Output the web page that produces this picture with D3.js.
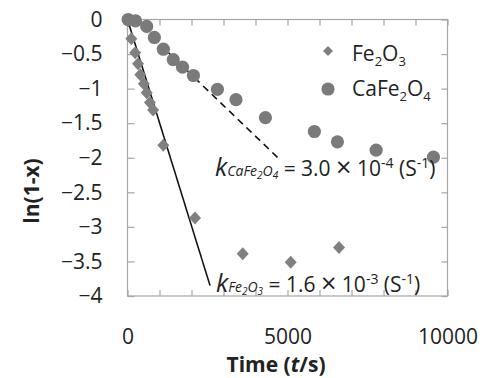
<!DOCTYPE html>
<html>
<head>
<meta charset="utf-8">
<script src="https://cdn.jsdelivr.net/npm/d3@7"></script>
<style>
  body { margin: 0; background: #fff; }
  svg text { font-family: "Open Sans", "DejaVu Sans", sans-serif; fill: #222; }
</style>
</head>
<body>
<div id="chart"></div>
<script>
// time (s) and ln(1-x)
const fe2o3Time = [20, 120, 240, 330, 400, 510, 600, 700, 800, 1120, 2110, 3600, 5100, 6610];
const fe2o3Val  = [-0.02, -0.28, -0.48, -0.64, -0.8, -0.93, -1.06, -1.2, -1.31, -1.82, -2.87, -3.39, -3.51, -3.3];
const cafe2o4Time = [20, 250, 600, 840, 1120, 1430, 1720, 2060, 2810, 3390, 4310, 5840, 6560, 7770, 9560];
const cafe2o4Val  = [0, -0.02, -0.1, -0.26, -0.43, -0.58, -0.69, -0.81, -1.01, -1.16, -1.42, -1.62, -1.77, -1.89, -1.99];

// fitted lines [time, value]
const fe2o3Fit = [[0, 0], [2580, -3.85]];
const cafe2o4Fit = [[200, 0], [4700, -2.0]];

const xTicks = [0, 1000, 2000, 3000, 4000, 5000, 6000, 7000, 8000, 9000, 10000];
const xLabels = [0, 5000, 10000];
const yTicks = [0, -0.5, -1, -1.5, -2, -2.5, -3, -3.5, -4];

const width = 489, height = 378;
const frame = '#a6a6a6';

const svg = d3.select('#chart')
  .append('svg')
    .attr('width', width)
    .attr('height', height);

const x = d3.scaleLinear().domain([0, 10000]).range([127.5, 447.5]);
const y = d3.scaleLinear().domain([-4, 0]).range([296, 19.5]);

// frame
svg.append('rect')
  .attr('x', x(0)).attr('y', y(0))
  .attr('width', x(10000) - x(0)).attr('height', y(-4) - y(0))
  .attr('fill', 'none').attr('stroke', frame).attr('stroke-width', 1.2);

function styleAxis(g) {
  g.select('.domain').remove();
  g.selectAll('.tick line').attr('stroke', frame).attr('stroke-width', 1.2);
  g.selectAll('.tick text')
    .style('font-family', '"Open Sans", sans-serif')
    .style('font-size', '21px')
    .attr('fill', '#222');
}

svg.append('g')
  .attr('transform', `translate(0,${y(-4)})`)
  .call(d3.axisBottom(x).tickValues(xTicks).tickSizeInner(-6).tickSizeOuter(0).tickPadding(33)
    .tickFormat(d => xLabels.includes(d) ? d : ''))
  .call(styleAxis);

svg.append('g')
  .attr('transform', `translate(0,${y(0)})`)
  .call(d3.axisTop(x).tickValues(xTicks).tickSizeInner(-6).tickSizeOuter(0).tickFormat(''))
  .call(styleAxis);

svg.append('g')
  .attr('transform', `translate(${x(0)},0)`)
  .call(d3.axisLeft(y).tickValues(yTicks).tickSizeInner(-7).tickSizeOuter(0).tickPadding(25)
    .tickFormat(d => d === 0 ? '0' : d3.format('')(d)))
  .call(styleAxis);

svg.append('g')
  .attr('transform', `translate(${x(10000)},0)`)
  .call(d3.axisRight(y).tickValues(yTicks).tickSizeInner(-6).tickSizeOuter(0).tickFormat(''))
  .call(styleAxis);

// axis titles
svg.append('text')
  .attr('x', 276).attr('y', 372)
  .attr('text-anchor', 'middle')
  .style('font-size', '21px').style('font-weight', 'bold')
  .call(t => {
    t.append('tspan').text('Time (');
    t.append('tspan').style('font-style', 'italic').text('t');
    t.append('tspan').text('/s)');
  });

svg.append('text')
  .attr('transform', 'translate(39,191) rotate(-90)')
  .attr('text-anchor', 'middle')
  .style('font-size', '21px').style('font-weight', 'bold')
  .text('ln(1-x)');

// fit lines
const line = d3.line().x(d => x(d[0])).y(d => y(d[1]));
svg.append('path')
  .datum(fe2o3Fit)
  .attr('d', line)
  .attr('fill', 'none').attr('stroke', '#111').attr('stroke-width', 1.6);
svg.append('path')
  .datum(cafe2o4Fit)
  .attr('d', line)
  .attr('fill', 'none').attr('stroke', '#111').attr('stroke-width', 1.6)
  .attr('stroke-dasharray', '7,5');

// points
const diamond = 'M0,-6.5L6,0L0,6.5L-6,0Z';
svg.append('g').selectAll('path')
  .data(fe2o3Time.map((t, i) => [t, fe2o3Val[i]]))
  .join('path')
    .attr('d', diamond)
    .attr('transform', d => `translate(${x(d[0])},${y(d[1])})`)
    .attr('fill', '#808080');

svg.append('g').selectAll('circle')
  .data(cafe2o4Time.map((t, i) => [t, cafe2o4Val[i]]))
  .join('circle')
    .attr('cx', d => x(d[0]))
    .attr('cy', d => y(d[1]))
    .attr('r', 6.6)
    .attr('fill', '#7a7a7a');

// legend
const legend = svg.append('g');
legend.append('path').attr('d', 'M0,-5L5,0L0,5L-5,0Z')
  .attr('transform', 'translate(328,51)').attr('fill', '#808080');
legend.append('circle').attr('cx', 328).attr('cy', 89).attr('r', 6.6).attr('fill', '#7a7a7a');

// parts: plain strings, or [string] for a subscript
function formula(t, parts, size, subSize, shift, italic) {
  let lowered = false;
  parts.forEach(p => {
    const s = t.append('tspan');
    if (Array.isArray(p)) {
      s.attr('dy', shift).style('font-size', subSize + 'px').text(p[0]);
      lowered = true;
    } else {
      if (lowered) { s.attr('dy', -shift); lowered = false; }
      s.style('font-size', size + 'px').text(p);
    }
    if (italic) s.style('font-style', 'italic');
  });
  return lowered;
}
legend.append('text').attr('x', 352).attr('y', 61)
  .call(t => formula(t, ['Fe', ['2'], 'O', ['3']], 21, 13, 5, false));
legend.append('text').attr('x', 352).attr('y', 96)
  .call(t => formula(t, ['CaFe', ['2'], 'O', ['4']], 21, 13, 5, false));

// rate constant annotations
function rateLabel(px, py, subParts, mant, exp) {
  const t = svg.append('text').attr('x', px).attr('y', py).style('font-size', '21px');
  t.append('tspan').style('font-style', 'italic').style('font-size', '25px').text('k');
  const lowered = formula(t, subParts, 14, 10, 3, true);
  t.append('tspan').attr('dy', lowered ? -3 : 0).text(' = ' + mant + ' ');
  t.append('tspan').attr('dy', 1).style('font-size', '27px').text('\u00d7');
  t.append('tspan').attr('dy', -1).text(' 10');
  t.append('tspan').attr('dy', -8).style('font-size', '14px').text(exp);
  t.append('tspan').attr('dy', 8).text(' (S');
  t.append('tspan').attr('dy', -8).style('font-size', '14px').text('-1');
  t.append('tspan').attr('dy', 8).text(')');
}
rateLabel(215, 176, ['CaFe', ['2'], 'O', ['4']], '3.0', '-4');
rateLabel(216, 292, ['Fe', ['2'], 'O', ['3']], '1.6', '-3');
</script>
</body>
</html>
